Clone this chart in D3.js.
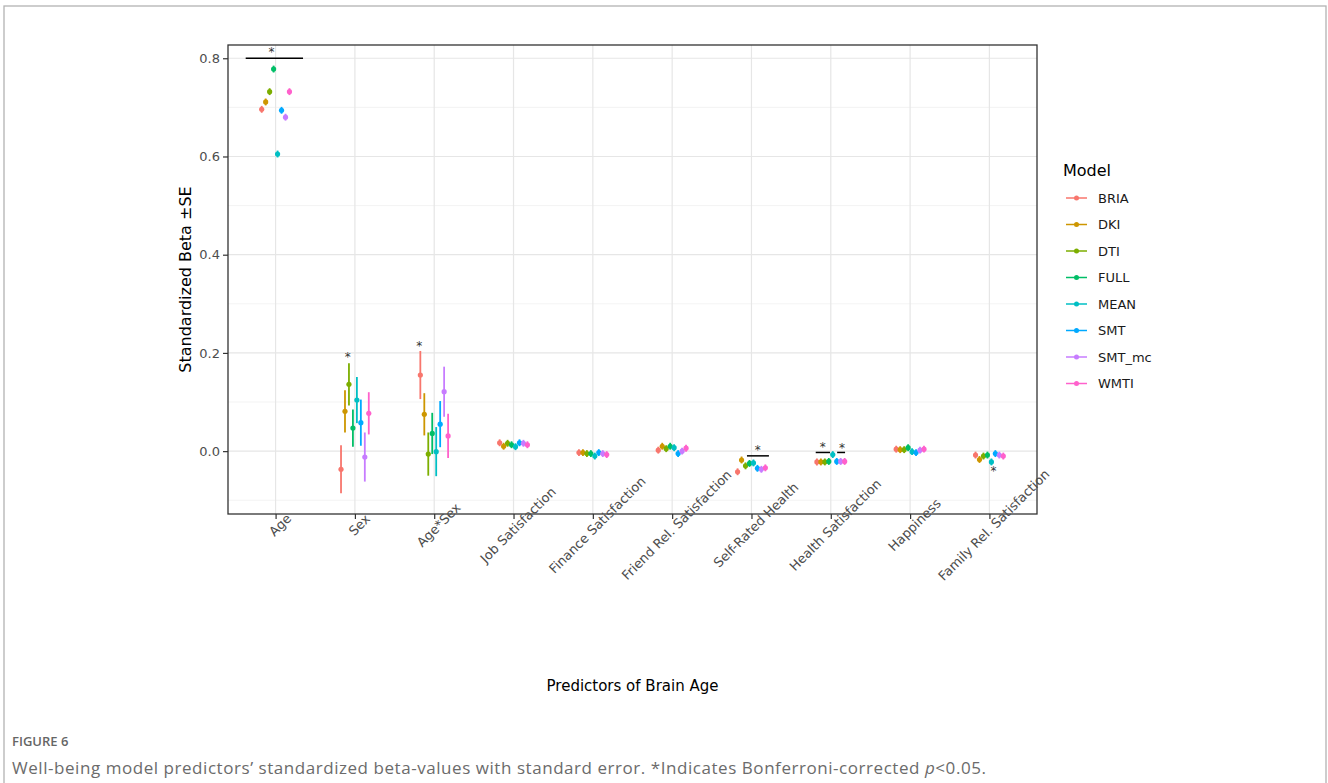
<!DOCTYPE html>
<html>
<head>
<meta charset="utf-8">
<script src="https://cdn.jsdelivr.net/npm/d3@7"></script>
<style>
  html, body { margin: 0; padding: 0; background: #fff; }
  svg { display: block; }
</style>
</head>
<body>
<svg id="chart" width="1328" height="783"></svg>
<script>
// Predictors on the x axis
const categories = ["Age", "Sex", "Age*Sex", "Job Satisfaction", "Finance Satisfaction",
  "Friend Rel. Satisfaction", "Self-Rated Health", "Health Satisfaction", "Happiness",
  "Family Rel. Satisfaction"];

// Brain-age models (legend order) and their colours
const models = ["BRIA", "DKI", "DTI", "FULL", "MEAN", "SMT", "SMT_mc", "WMTI"];
const modelColors = ["#F8766D", "#CD9600", "#7CAE00", "#00BE67", "#00BFC4", "#00A9FF", "#C77CFF", "#FF61CC"];

// Standardized beta per model, one value per predictor (same order as categories)
const betaBRIA  = [0.696, -0.037, 0.155, 0.017, -0.003, 0.002, -0.042, -0.022, 0.004, -0.008];
const betaDKI   = [0.711, 0.081, 0.075, 0.010, -0.003, 0.010, -0.018, -0.022, 0.003, -0.017];
const betaDTI   = [0.732, 0.136, -0.006, 0.016, -0.005, 0.005, -0.030, -0.022, 0.003, -0.010];
const betaFULL  = [0.778, 0.047, 0.036, 0.013, -0.005, 0.010, -0.025, -0.021, 0.007, -0.008];
const betaMEAN  = [0.605, 0.104, -0.001, 0.009, -0.010, 0.007, -0.024, -0.007, -0.001, -0.022];
const betaSMT   = [0.694, 0.058, 0.055, 0.017, -0.003, -0.005, -0.035, -0.021, -0.003, -0.005];
const betaSMTmc = [0.680, -0.012, 0.121, 0.016, -0.005, 0.000, -0.037, -0.021, 0.002, -0.008];
const betaWMTI  = [0.732, 0.077, 0.031, 0.013, -0.007, 0.006, -0.034, -0.021, 0.004, -0.010];

// Standard errors per model
const seBRIA  = [0.007, 0.049, 0.049, 0.007, 0.007, 0.007, 0.007, 0.007, 0.007, 0.007];
const seDKI   = [0.007, 0.043, 0.043, 0.007, 0.007, 0.007, 0.007, 0.007, 0.007, 0.007];
const seDTI   = [0.007, 0.043, 0.044, 0.007, 0.007, 0.007, 0.007, 0.007, 0.007, 0.007];
const seFULL  = [0.007, 0.038, 0.042, 0.007, 0.007, 0.007, 0.007, 0.007, 0.007, 0.007];
const seMEAN  = [0.007, 0.047, 0.050, 0.007, 0.007, 0.007, 0.007, 0.007, 0.007, 0.007];
const seSMT   = [0.007, 0.047, 0.047, 0.007, 0.007, 0.007, 0.007, 0.007, 0.007, 0.007];
const seSMTmc = [0.007, 0.050, 0.051, 0.007, 0.007, 0.007, 0.007, 0.007, 0.007, 0.007];
const seWMTI  = [0.007, 0.043, 0.045, 0.007, 0.007, 0.007, 0.007, 0.007, 0.007, 0.007];

const betas = [betaBRIA, betaDKI, betaDTI, betaFULL, betaMEAN, betaSMT, betaSMTmc, betaWMTI];
const ses = [seBRIA, seDKI, seDTI, seFULL, seMEAN, seSMT, seSMTmc, seWMTI];

// Y axis ticks
const yMajorTicks = [0.0, 0.2, 0.4, 0.6, 0.8];
const yMinorTicks = [-0.1, 0.1, 0.3, 0.5, 0.7];

// Significance markers: predictor, horizontal shift (in category units), y value
const starMarks = [
  { cat: "Age", shift: -0.05, y: 0.817 },
  { cat: "Sex", shift: -0.09, y: 0.196 },
  { cat: "Age*Sex", shift: -0.19, y: 0.218 },
  { cat: "Self-Rated Health", shift: 0.08, y: 0.0055 },
  { cat: "Health Satisfaction", shift: -0.10, y: 0.012 },
  { cat: "Health Satisfaction", shift: 0.14, y: 0.011 },
  { cat: "Family Rel. Satisfaction", shift: 0.05, y: -0.037 }
];
// Significance brackets: predictor, start/end shift, y value
const bracketMarks = [
  { cat: "Age", from: -0.377, to: 0.346, y: 0.800 },
  { cat: "Self-Rated Health", from: -0.057, to: 0.22, y: -0.0096 },
  { cat: "Health Satisfaction", from: -0.19, to: -0.01, y: -0.0027 },
  { cat: "Health Satisfaction", from: 0.08, to: 0.18, y: -0.0027 }
];

const svg = d3.select("#chart");
const font = "'DejaVu Sans', sans-serif";

// Figure frame
svg.append("rect").attr("x", 4).attr("y", 6).attr("width", 1322).attr("height", 800)
  .attr("fill", "none").attr("stroke", "#b3b3b3").attr("stroke-width", 1.3);

const panel = { left: 228, right: 1037, top: 45, bottom: 514 };

const x = d3.scaleLinear().domain([-0.6, categories.length - 1 + 0.6]).range([panel.left, panel.right]);
const y = d3.scaleLinear().domain([-0.128, 0.827]).range([panel.bottom, panel.top]);
const dodge = 0.05; // spacing between models inside a predictor

const g = svg.append("g");

// Grid
g.selectAll(".minor").data(yMinorTicks).join("line")
  .attr("x1", panel.left).attr("x2", panel.right)
  .attr("y1", d => y(d)).attr("y2", d => y(d))
  .attr("stroke", "#ebebeb").attr("stroke-width", 0.6);
g.selectAll(".major").data(yMajorTicks).join("line")
  .attr("x1", panel.left).attr("x2", panel.right)
  .attr("y1", d => y(d)).attr("y2", d => y(d))
  .attr("stroke", "#e6e6e6").attr("stroke-width", 1.2);
g.selectAll(".vgrid").data(categories).join("line")
  .attr("x1", (d, i) => x(i)).attr("x2", (d, i) => x(i))
  .attr("y1", panel.top).attr("y2", panel.bottom)
  .attr("stroke", "#e6e6e6").attr("stroke-width", 1.2);

// Point ranges
const points = [];
models.forEach((m, mi) => {
  categories.forEach((c, ci) => {
    points.push({ model: m, color: modelColors[mi], cx: ci + (mi - 3.5) * dodge, beta: betas[mi][ci], se: ses[mi][ci] });
  });
});
const pr = g.append("g").selectAll("g").data(points).join("g");
pr.append("line")
  .attr("x1", d => x(d.cx)).attr("x2", d => x(d.cx))
  .attr("y1", d => y(d.beta - d.se)).attr("y2", d => y(d.beta + d.se))
  .attr("stroke", d => d.color).attr("stroke-width", 1.8);
pr.append("circle")
  .attr("cx", d => x(d.cx)).attr("cy", d => y(d.beta)).attr("r", 2.6)
  .attr("fill", d => d.color);

// Significance brackets and stars
g.selectAll(".bracket").data(bracketMarks).join("line")
  .attr("x1", d => x(categories.indexOf(d.cat) + d.from))
  .attr("x2", d => x(categories.indexOf(d.cat) + d.to))
  .attr("y1", d => y(d.y)).attr("y2", d => y(d.y))
  .attr("stroke", "#000").attr("stroke-width", 1.5);
g.selectAll(".star").data(starMarks).join("text")
  .attr("x", d => x(categories.indexOf(d.cat) + d.shift))
  .attr("y", d => y(d.y) + 6)
  .attr("text-anchor", "middle")
  .attr("font-family", font).attr("font-size", 12).attr("fill", "#333")
  .text("*");

// Panel border
g.append("rect").attr("x", panel.left).attr("y", panel.top)
  .attr("width", panel.right - panel.left).attr("height", panel.bottom - panel.top)
  .attr("fill", "none").attr("stroke", "#333").attr("stroke-width", 1.3);

// Y axis
const yAxis = g.append("g").attr("transform", `translate(${panel.left},0)`)
  .call(d3.axisLeft(y).tickValues(yMajorTicks).tickFormat(d3.format(".1f")).tickSize(5).tickPadding(3));
yAxis.select(".domain").remove();
yAxis.selectAll(".tick line").attr("stroke", "#333").attr("stroke-width", 1.2);
yAxis.selectAll(".tick text").attr("font-family", font).attr("font-size", 13).attr("fill", "#4d4d4d");

// X axis
const xAxis = g.append("g").attr("transform", `translate(0,${panel.bottom})`)
  .call(d3.axisBottom(x).tickValues(d3.range(categories.length)).tickFormat(i => categories[i]).tickSize(5));
xAxis.select(".domain").remove();
xAxis.selectAll(".tick line").attr("stroke", "#333").attr("stroke-width", 1.2);
xAxis.selectAll(".tick text")
  .attr("font-family", font).attr("font-size", 13).attr("fill", "#4d4d4d")
  .attr("text-anchor", "middle").attr("dy", null).attr("y", null)
  .attr("dominant-baseline", "central")
  .attr("transform", "translate(4,11) rotate(-45)");

// Axis titles
svg.append("text")
  .attr("transform", `translate(191,${(panel.top + panel.bottom) / 2}) rotate(-90)`)
  .attr("text-anchor", "middle").attr("font-family", font).attr("font-size", 16).attr("fill", "#000")
  .text("Standardized Beta ±SE");
svg.append("text")
  .attr("x", (panel.left + panel.right) / 2).attr("y", 691)
  .attr("text-anchor", "middle").attr("font-family", font).attr("font-size", 15).attr("fill", "#000")
  .text("Predictors of Brain Age");

// Legend
const legend = svg.append("g").attr("transform", "translate(1063,0)");
legend.append("text").attr("x", 0).attr("y", 176)
  .attr("font-family", font).attr("font-size", 16).attr("fill", "#000").text("Model");
const li = legend.selectAll(".item").data(models).join("g")
  .attr("transform", (d, i) => `translate(0,${198 + i * 26.5})`);
li.append("line").attr("x1", 3).attr("x2", 24).attr("y1", 0).attr("y2", 0)
  .attr("stroke", (d, i) => modelColors[i]).attr("stroke-width", 1.5);
li.append("circle").attr("cx", 13.5).attr("cy", 0).attr("r", 2.5).attr("fill", (d, i) => modelColors[i]);
li.append("text").attr("x", 35).attr("y", 0).attr("dominant-baseline", "central")
  .attr("font-family", font).attr("font-size", 13).attr("fill", "#1a1a1a").text(d => d);

// Caption
svg.append("text").attr("x", 12).attr("y", 746)
  .attr("font-family", "'Open Sans', sans-serif").attr("font-size", 13).attr("font-weight", 600)
  .attr("fill", "#666").text("FIGURE 6");
const cap = svg.append("text").attr("x", 12).attr("y", 774)
  .attr("font-family", "'Open Sans', sans-serif").attr("font-size", 17).attr("letter-spacing", 0.55)
  .attr("fill", "#6b6b6b");
cap.append("tspan").text("Well-being model predictors’ standardized beta-values with standard error. *Indicates Bonferroni-corrected ");
cap.append("tspan").attr("font-style", "italic").text("p");
cap.append("tspan").text("<0.05.");
</script>
</body>
</html>
